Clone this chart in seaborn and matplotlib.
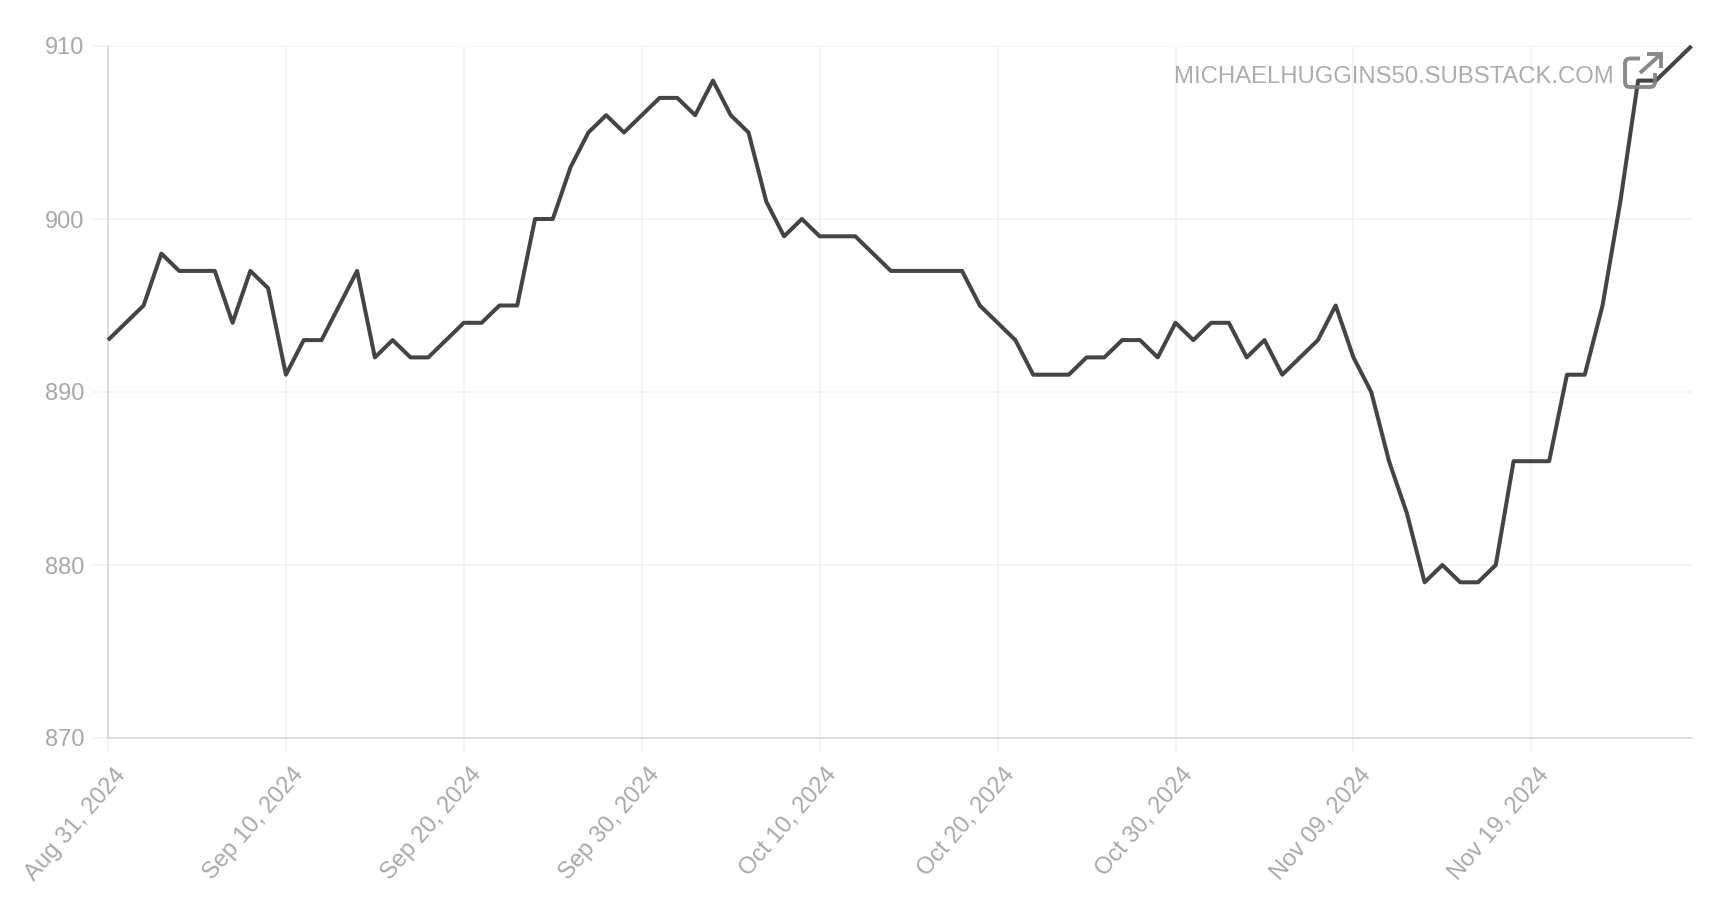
import matplotlib
matplotlib.use("Agg")
import matplotlib.pyplot as plt
import matplotlib.dates as mdates
from matplotlib.path import Path
from matplotlib.patches import PathPatch
from matplotlib.transforms import ScaledTranslation
import pandas as pd
import seaborn as sns

start_date = "2024-08-31"
august_september = [893, 894, 895, 898, 897, 897, 897, 894, 897, 896, 891, 893, 893, 895, 897, 892,
                    893, 892, 892, 893, 894, 894, 895, 895, 900, 900, 903, 905, 906, 905, 906]
october = [907, 907, 906, 908, 906, 905, 901, 899, 900, 899, 899, 899, 898, 897, 897, 897, 897, 897,
           895, 894, 893, 891, 891, 891, 892, 892, 893, 893, 892, 894, 893]
november = [894, 894, 892, 893, 891, 892, 893, 895, 892, 890, 886, 883, 879, 880, 879, 879, 880,
            886, 886, 886, 891, 891, 895, 901, 908, 908, 909, 910]
y_ticks = [870, 880, 890, 900, 910]
x_ticks = ["2024-08-31", "2024-09-10", "2024-09-20", "2024-09-30", "2024-10-10",
           "2024-10-20", "2024-10-30", "2024-11-09", "2024-11-19"]
watermark = "MICHAELHUGGINS50.SUBSTACK.COM"

values = august_september + october + november
df = pd.DataFrame({"date": pd.date_range(start_date, periods=len(values), freq="D"), "value": values})

sns.set_theme(style="white")
plt.rcParams["font.family"] = ["Liberation Sans", "DejaVu Sans"]

W, H = 1712, 916
fig = plt.figure(figsize=(W / 100, H / 100), dpi=100, facecolor="white")
ax = fig.add_axes([108 / W, 1 - 738 / H, (1691.5 - 108) / W, (738 - 46) / H])

sns.lineplot(data=df, x="date", y="value", ax=ax, color="#444444", linewidth=2.9,
             errorbar=None, clip_on=False, zorder=3, solid_joinstyle="round", solid_capstyle="butt")

ax.set_xlim(df["date"].iloc[0], df["date"].iloc[-1])
ax.set_ylim(870, 910)
ax.set_yticks(y_ticks)
ax.set_xticks(pd.to_datetime(x_ticks))
ax.xaxis.set_major_formatter(mdates.DateFormatter("%b %d, %Y"))
ax.set_xlabel("")
ax.set_ylabel("")
ax.grid(True, color="#f2f2f2", linewidth=1.2)
ax.set_axisbelow(True)

for side in ("top", "right"):
    ax.spines[side].set_visible(False)
for side in ("left", "bottom"):
    ax.spines[side].set_color("#dcdcdc")
    ax.spines[side].set_linewidth(1.4)

ax.tick_params(axis="y", length=11, width=1.2, color="#f2f2f2", labelcolor="#a8a8a8",
               labelsize=17, pad=6, left=True)
ax.tick_params(axis="x", length=11, width=1.2, color="#f2f2f2", labelcolor="#a8a8a8",
               labelsize=17, pad=7, bottom=True)
label_shift = ScaledTranslation(5.5 / 100, -1 / 100, fig.dpi_scale_trans)
for label in ax.get_xticklabels():
    label.set_rotation(49)
    label.set_rotation_mode("anchor")
    label.set_ha("right")
    label.set_va("top")
    label.set_transform(label.get_transform() + label_shift)

fig.text(1174 / W, 1 - 77 / H, watermark, color="#acacac", fontsize=17.2, ha="left", va="center", zorder=5)


def px(x, y):
    return (x / W, 1 - y / H)


M, L, C = Path.MOVETO, Path.LINETO, Path.CURVE3
box = [((1640, 58.5), M), ((1630, 58.5), L), ((1625, 58.5), C), ((1625, 63.5), C), ((1625, 82), L),
       ((1625, 87), C), ((1630, 87), C), ((1650, 87), L), ((1655, 87), C), ((1655, 82), C), ((1655, 73), L)]
arrow = [((1640, 73), M), ((1661, 54), L), ((1647, 54), M), ((1661, 54), L), ((1661, 68), L)]
for shape in (box, arrow):
    path = Path([px(*p) for p, _ in shape], [c for _, c in shape])
    fig.add_artist(PathPatch(path, fill=False, edgecolor="#7c7c7c", linewidth=2.8,
                             transform=fig.transFigure, zorder=6, alpha=0.9))

fig.savefig("out.png", dpi=100, facecolor="white")
